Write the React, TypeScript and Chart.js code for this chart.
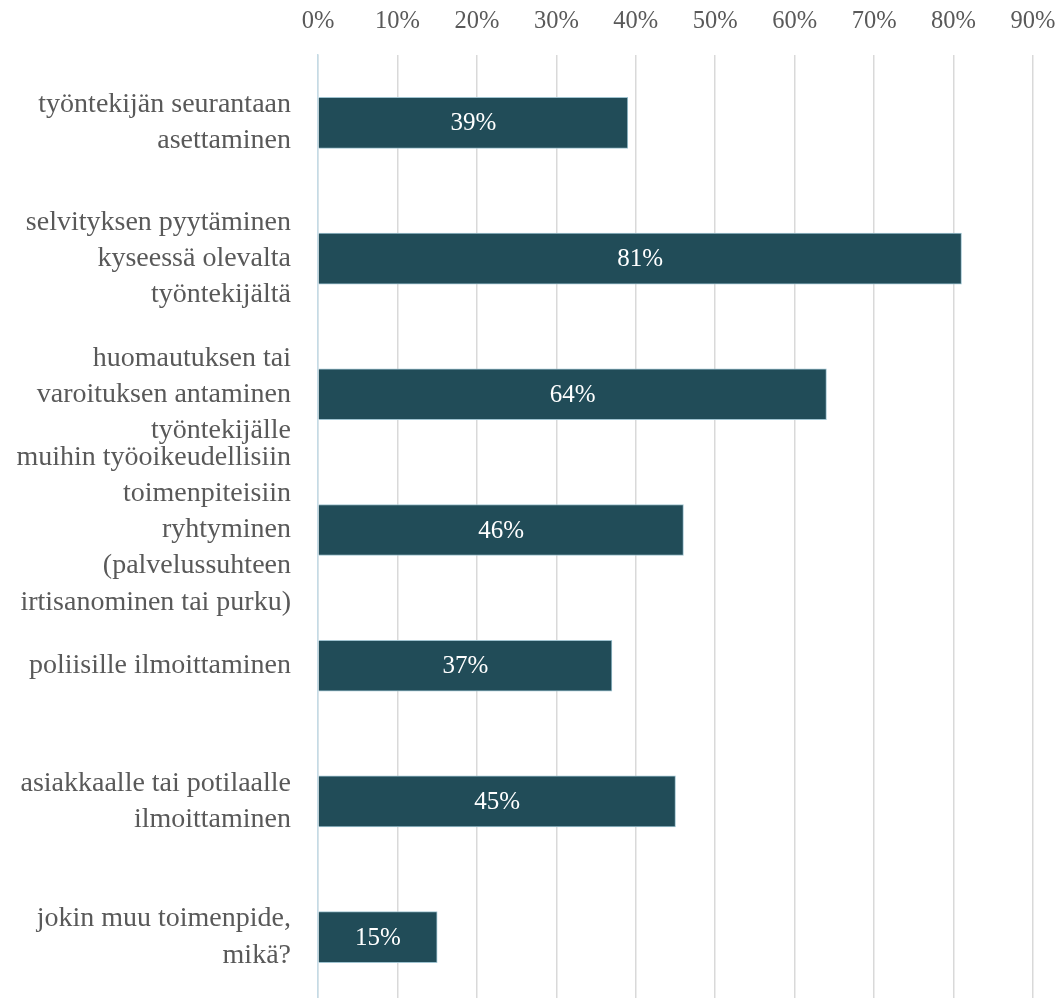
import React, { useEffect, useRef } from "react";
import { Chart, registerables } from "chart.js";

Chart.register(...registerables);

const categories: string[][] = [
  ["työntekijän seurantaan", "asettaminen"],
  ["selvityksen pyytäminen", "kyseessä olevalta", "työntekijältä"],
  ["huomautuksen tai", "varoituksen antaminen", "työntekijälle"],
  ["muihin työoikeudellisiin", "toimenpiteisiin", "ryhtyminen", "(palvelussuhteen", "irtisanominen tai purku)"],
  ["poliisille ilmoittaminen"],
  ["asiakkaalle tai potilaalle", "ilmoittaminen"],
  ["jokin muu toimenpide,", "mikä?"],
];

const values: number[] = [39, 81, 64, 46, 37, 45, 15];

const axisMin = 0;
const axisMax = 90;
const axisStep = 10;

const FONT = "'Liberation Serif', 'Times New Roman', serif";

const barLabelPlugin = {
  id: "barLabels",
  afterDatasetsDraw(chart: any) {
    const ctx = chart.ctx;
    const meta = chart.getDatasetMeta(0);
    ctx.save();
    ctx.fillStyle = "#ffffff";
    ctx.font = `25px ${FONT}`;
    ctx.textAlign = "center";
    ctx.textBaseline = "middle";
    meta.data.forEach((bar: any, i: number) => {
      const p = bar.getProps(["x", "y", "base"], true);
      const cx = (p.x + p.base) / 2;
      ctx.fillText(`${values[i]}%`, cx, p.y + 1);
    });
    ctx.restore();
  },
};

export default function App() {
  const ref = useRef<HTMLCanvasElement | null>(null);

  useEffect(() => {
    if (!ref.current) return;
    const chart = new Chart(ref.current, {
      type: "bar",
      data: {
        labels: categories,
        datasets: [
          {
            data: values,
            backgroundColor: "#214c58",
            borderColor: "#9fc3d0",
            borderWidth: 1,
            barThickness: 51,
          },
        ],
      },
      options: {
        indexAxis: "y",
        animation: false,
        responsive: false,
        maintainAspectRatio: false,
        layout: { padding: { left: 0, right: 25, top: 0, bottom: 0 } },
        plugins: {
          legend: { display: false },
          tooltip: { enabled: false },
        },
        scales: {
          x: {
            position: "top",
            min: axisMin,
            max: axisMax,
            ticks: {
              stepSize: axisStep,
              callback: (v: any) => `${v}%`,
              color: "#595959",
              font: { family: FONT, size: 24.5 },
              padding: 19,
            },
            grid: {
              color: "#d9d9d9",
              lineWidth: 1.5,
              drawTicks: false,
            },
            border: { display: false },
            afterFit: (s: any) => {
              s.height = 55;
              s.paddingLeft = 0;
              s.paddingRight = 0;
            },
          },
          y: {
            ticks: {
              color: "#595959",
              font: { family: FONT, size: 28, lineHeight: 1.29 },
              padding: 27,
              autoSkip: false,
            },
            grid: { display: false, drawTicks: false },
            border: { display: true, color: "#c5dbe6", width: 1.5 },
            afterFit: (s: any) => {
              s.width = 318;
              s.paddingTop = 0;
              s.paddingBottom = 0;
            },
          },
        },
      },
      plugins: [barLabelPlugin],
    });
    return () => chart.destroy();
  }, []);

  return (
    <div
      style={{
        position: "fixed",
        top: 0,
        left: 0,
        width: 1058,
        height: 1005,
        background: "#ffffff",
      }}
    >
      <canvas ref={ref} width={1058} height={1005} style={{ display: "block" }} />
    </div>
  );
}
